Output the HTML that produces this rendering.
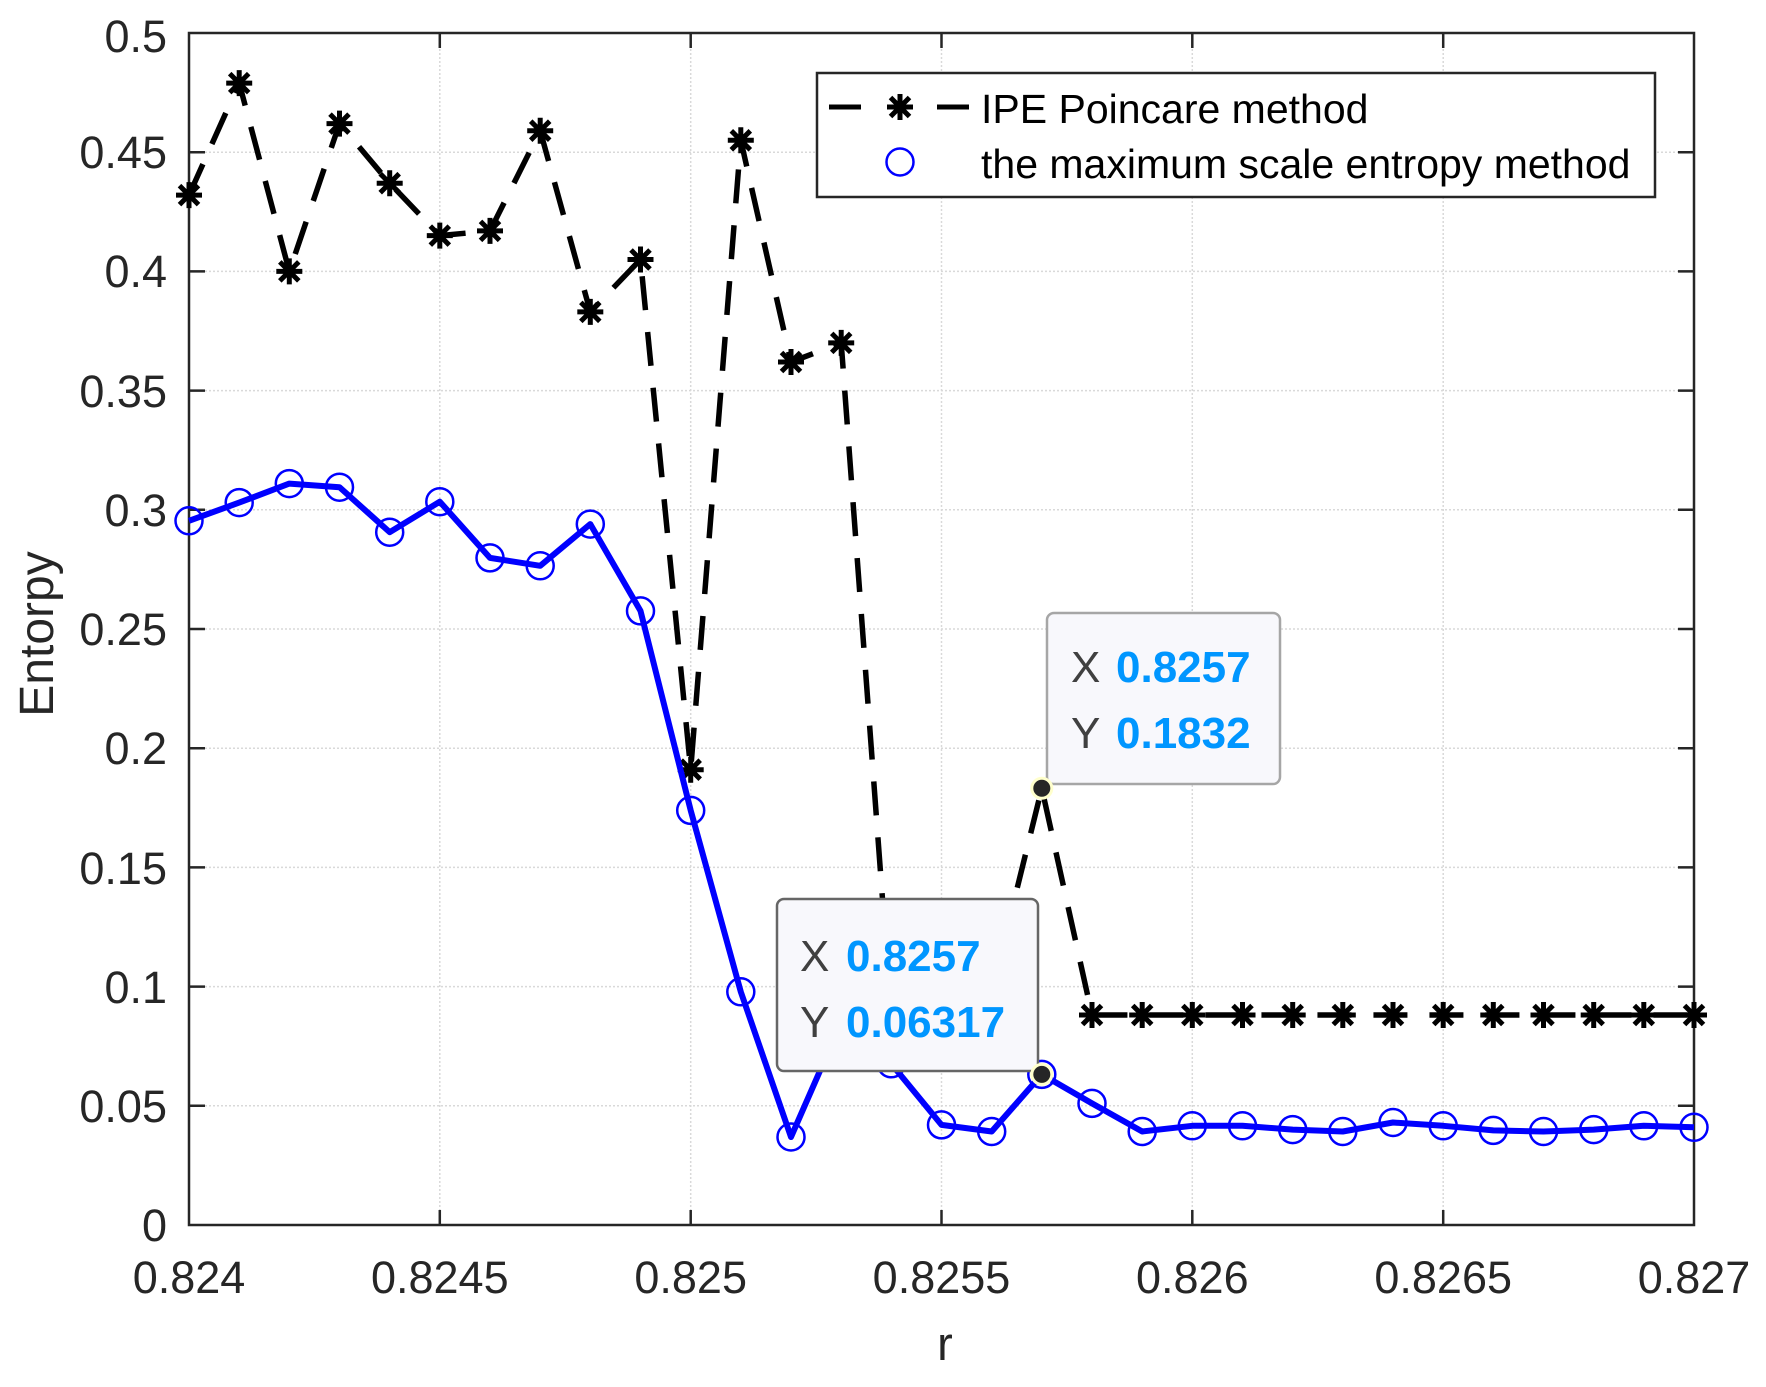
<!DOCTYPE html>
<html><head><meta charset="utf-8"><style>
html,body{margin:0;padding:0;background:#fff;}
svg{display:block;}
text{font-family:"Liberation Sans",Arial,sans-serif;}
</style></head><body>
<svg width="1766" height="1387" viewBox="0 0 1766 1387" xmlns="http://www.w3.org/2000/svg">
<rect width="1766" height="1387" fill="#fff"/>
<g stroke="#d9d9d9" stroke-width="1.5" stroke-dasharray="2 2">
<line x1="189" y1="152.2" x2="1694" y2="152.2"/>
<line x1="189" y1="271.4" x2="1694" y2="271.4"/>
<line x1="189" y1="390.6" x2="1694" y2="390.6"/>
<line x1="189" y1="509.8" x2="1694" y2="509.8"/>
<line x1="189" y1="629" x2="1694" y2="629"/>
<line x1="189" y1="748.2" x2="1694" y2="748.2"/>
<line x1="189" y1="867.4" x2="1694" y2="867.4"/>
<line x1="189" y1="986.6" x2="1694" y2="986.6"/>
<line x1="189" y1="1105.8" x2="1694" y2="1105.8"/>
<line x1="439.8" y1="33" x2="439.8" y2="1225"/>
<line x1="690.7" y1="33" x2="690.7" y2="1225"/>
<line x1="941.5" y1="33" x2="941.5" y2="1225"/>
<line x1="1192.3" y1="33" x2="1192.3" y2="1225"/>
<line x1="1443.2" y1="33" x2="1443.2" y2="1225"/>
</g>
<rect x="189" y="33" width="1505" height="1192" fill="none" stroke="#262626" stroke-width="2.5"/>
<g stroke="#262626" stroke-width="2.5">
<path d="M189 152.2h16M189 271.4h16M189 390.6h16M189 509.8h16M189 629h16M189 748.2h16M189 867.4h16M189 986.6h16M189 1105.8h16"/>
<path d="M1694 152.2h-16M1694 271.4h-16M1694 390.6h-16M1694 509.8h-16M1694 629h-16M1694 748.2h-16M1694 867.4h-16M1694 986.6h-16M1694 1105.8h-16"/>
<path d="M439.8 1225v-15M690.7 1225v-15M941.5 1225v-15M1192.3 1225v-15M1443.2 1225v-15"/>
<path d="M439.8 33v15M690.7 33v15M941.5 33v15M1192.3 33v15M1443.2 33v15"/>
</g>
<g font-size="45" fill="#262626" text-anchor="end">
<text x="167" y="52">0.5</text>
<text x="167" y="168">0.45</text>
<text x="167" y="287">0.4</text>
<text x="167" y="407">0.35</text>
<text x="167" y="526">0.3</text>
<text x="167" y="645">0.25</text>
<text x="167" y="764">0.2</text>
<text x="167" y="884">0.15</text>
<text x="167" y="1003">0.1</text>
<text x="167" y="1122">0.05</text>
<text x="167" y="1241">0</text>
</g>
<g font-size="45" fill="#262626" text-anchor="middle">
<text x="189" y="1293">0.824</text>
<text x="439.8" y="1293">0.8245</text>
<text x="690.7" y="1293">0.825</text>
<text x="941.5" y="1293">0.8255</text>
<text x="1192.3" y="1293">0.826</text>
<text x="1443.2" y="1293">0.8265</text>
<text x="1694" y="1293">0.827</text>
<text x="945" y="1360" font-size="47">r</text>
<text transform="translate(53,634) rotate(-90)" font-size="48">Entorpy</text>
</g>
<polyline fill="none" stroke="#000" stroke-width="5.5" stroke-dasharray="34 22" points="189,195.1 239.2,83.1 289.3,271.4 339.5,123.6 389.7,183.2 439.8,235.6 490,230.9 540.2,130.7 590.3,311.9 640.5,259.5 690.7,769.7 740.8,140.3 791,362 841.2,342.9 891.3,1017.6 941.5,1010.4 991.7,991.4 1041.8,788.3 1092,1015 1142.2,1015 1192.3,1015 1242.5,1015 1292.7,1015 1342.8,1015 1393,1015 1443.2,1015 1493.3,1015 1543.5,1015 1593.7,1015 1643.8,1015 1694,1015"/>
<defs>
<g id="st"><path d="M-13 0H13M0 -13V13M-9.5 -9.5L9.5 9.5M-9.5 9.5L9.5 -9.5" stroke="#000" stroke-width="5"/></g>
<circle id="ci" r="13.5" fill="none" stroke="#0000ff" stroke-width="2.5"/>
</defs>
<g>
<use href="#st" x="189" y="195.1"/><use href="#st" x="239.2" y="83.1"/><use href="#st" x="289.3" y="271.4"/><use href="#st" x="339.5" y="123.6"/><use href="#st" x="389.7" y="183.2"/><use href="#st" x="439.8" y="235.6"/><use href="#st" x="490" y="230.9"/><use href="#st" x="540.2" y="130.7"/><use href="#st" x="590.3" y="311.9"/><use href="#st" x="640.5" y="259.5"/><use href="#st" x="690.7" y="769.7"/><use href="#st" x="740.8" y="140.3"/><use href="#st" x="791" y="362"/><use href="#st" x="841.2" y="342.9"/><use href="#st" x="891.3" y="1017.6"/><use href="#st" x="941.5" y="1010.4"/><use href="#st" x="991.7" y="991.4"/><use href="#st" x="1092" y="1015"/><use href="#st" x="1142.2" y="1015"/><use href="#st" x="1192.3" y="1015"/><use href="#st" x="1242.5" y="1015"/><use href="#st" x="1292.7" y="1015"/><use href="#st" x="1342.8" y="1015"/><use href="#st" x="1393" y="1015"/><use href="#st" x="1443.2" y="1015"/><use href="#st" x="1493.3" y="1015"/><use href="#st" x="1543.5" y="1015"/><use href="#st" x="1593.7" y="1015"/><use href="#st" x="1643.8" y="1015"/><use href="#st" x="1694" y="1015"/>
</g>
<polyline fill="none" stroke="#0000ff" stroke-width="6" stroke-linejoin="round" points="189,520.8 239.2,502.6 289.3,483.6 339.5,487.2 389.7,532.2 439.8,501.7 490,557.9 540.2,565.8 590.3,524.1 640.5,610.9 690.7,810.4 740.8,991.8 791,1137 841.2,1022.4 891.3,1063.8 941.5,1124.9 991.7,1131.5 1041.8,1074.4 1092,1103.4 1142.2,1131.5 1192.3,1125.8 1242.5,1125.8 1292.7,1129.6 1342.8,1131.5 1393,1122.5 1443.2,1125.8 1493.3,1130.4 1543.5,1131.5 1593.7,1129.6 1643.8,1125.8 1694,1127.3"/>
<g>
<use href="#ci" x="189" y="520.8"/><use href="#ci" x="239.2" y="502.6"/><use href="#ci" x="289.3" y="483.6"/><use href="#ci" x="339.5" y="487.2"/><use href="#ci" x="389.7" y="532.2"/><use href="#ci" x="439.8" y="501.7"/><use href="#ci" x="490" y="557.9"/><use href="#ci" x="540.2" y="565.8"/><use href="#ci" x="590.3" y="524.1"/><use href="#ci" x="640.5" y="610.9"/><use href="#ci" x="690.7" y="810.4"/><use href="#ci" x="740.8" y="991.8"/><use href="#ci" x="791" y="1137"/><use href="#ci" x="841.2" y="1022.4"/><use href="#ci" x="891.3" y="1063.8"/><use href="#ci" x="941.5" y="1124.9"/><use href="#ci" x="991.7" y="1131.5"/><use href="#ci" x="1041.8" y="1074.4"/><use href="#ci" x="1092" y="1103.4"/><use href="#ci" x="1142.2" y="1131.5"/><use href="#ci" x="1192.3" y="1125.8"/><use href="#ci" x="1242.5" y="1125.8"/><use href="#ci" x="1292.7" y="1129.6"/><use href="#ci" x="1342.8" y="1131.5"/><use href="#ci" x="1393" y="1122.5"/><use href="#ci" x="1443.2" y="1125.8"/><use href="#ci" x="1493.3" y="1130.4"/><use href="#ci" x="1543.5" y="1131.5"/><use href="#ci" x="1593.7" y="1129.6"/><use href="#ci" x="1643.8" y="1125.8"/><use href="#ci" x="1694" y="1127.3"/>
</g>
<rect x="817" y="73" width="838" height="124" fill="#fff" stroke="#262626" stroke-width="2.5"/>
<path d="M829 107H861M937 107H969" stroke="#000" stroke-width="5"/>
<use href="#st" x="900" y="107"/>
<circle cx="900" cy="162" r="13.5" fill="none" stroke="#0000ff" stroke-width="2.5"/>
<text x="981" y="123" font-size="41" fill="#000">IPE Poincare method</text>
<text x="981" y="178" font-size="41" fill="#000">the maximum scale entropy method</text>
<rect x="1047" y="613" width="233" height="171" rx="7" fill="#f8f8fc" stroke="#a6a6a6" stroke-width="2.5"/>
<text x="1071" y="682" font-size="44" fill="#404040">X <tspan x="1116" fill="#0096ff" font-weight="bold">0.8257</tspan></text>
<text x="1071" y="748" font-size="44" fill="#404040">Y <tspan x="1116" fill="#0096ff" font-weight="bold">0.1832</tspan></text>
<circle cx="1041.8" cy="788.3" r="10" fill="#262626" stroke="#ffffcc" stroke-width="3"/>
<rect x="777" y="899" width="261" height="172" rx="7" fill="#f8f8fc" stroke="#666" stroke-width="2.5"/>
<text x="800" y="971" font-size="44" fill="#404040">X <tspan x="846" fill="#0096ff" font-weight="bold">0.8257</tspan></text>
<text x="800" y="1037" font-size="44" fill="#404040">Y <tspan x="846" fill="#0096ff" font-weight="bold">0.06317</tspan></text>
<circle cx="1041.8" cy="1074.4" r="10" fill="#262626" stroke="#ffffcc" stroke-width="3"/>
</svg>
</body></html>
